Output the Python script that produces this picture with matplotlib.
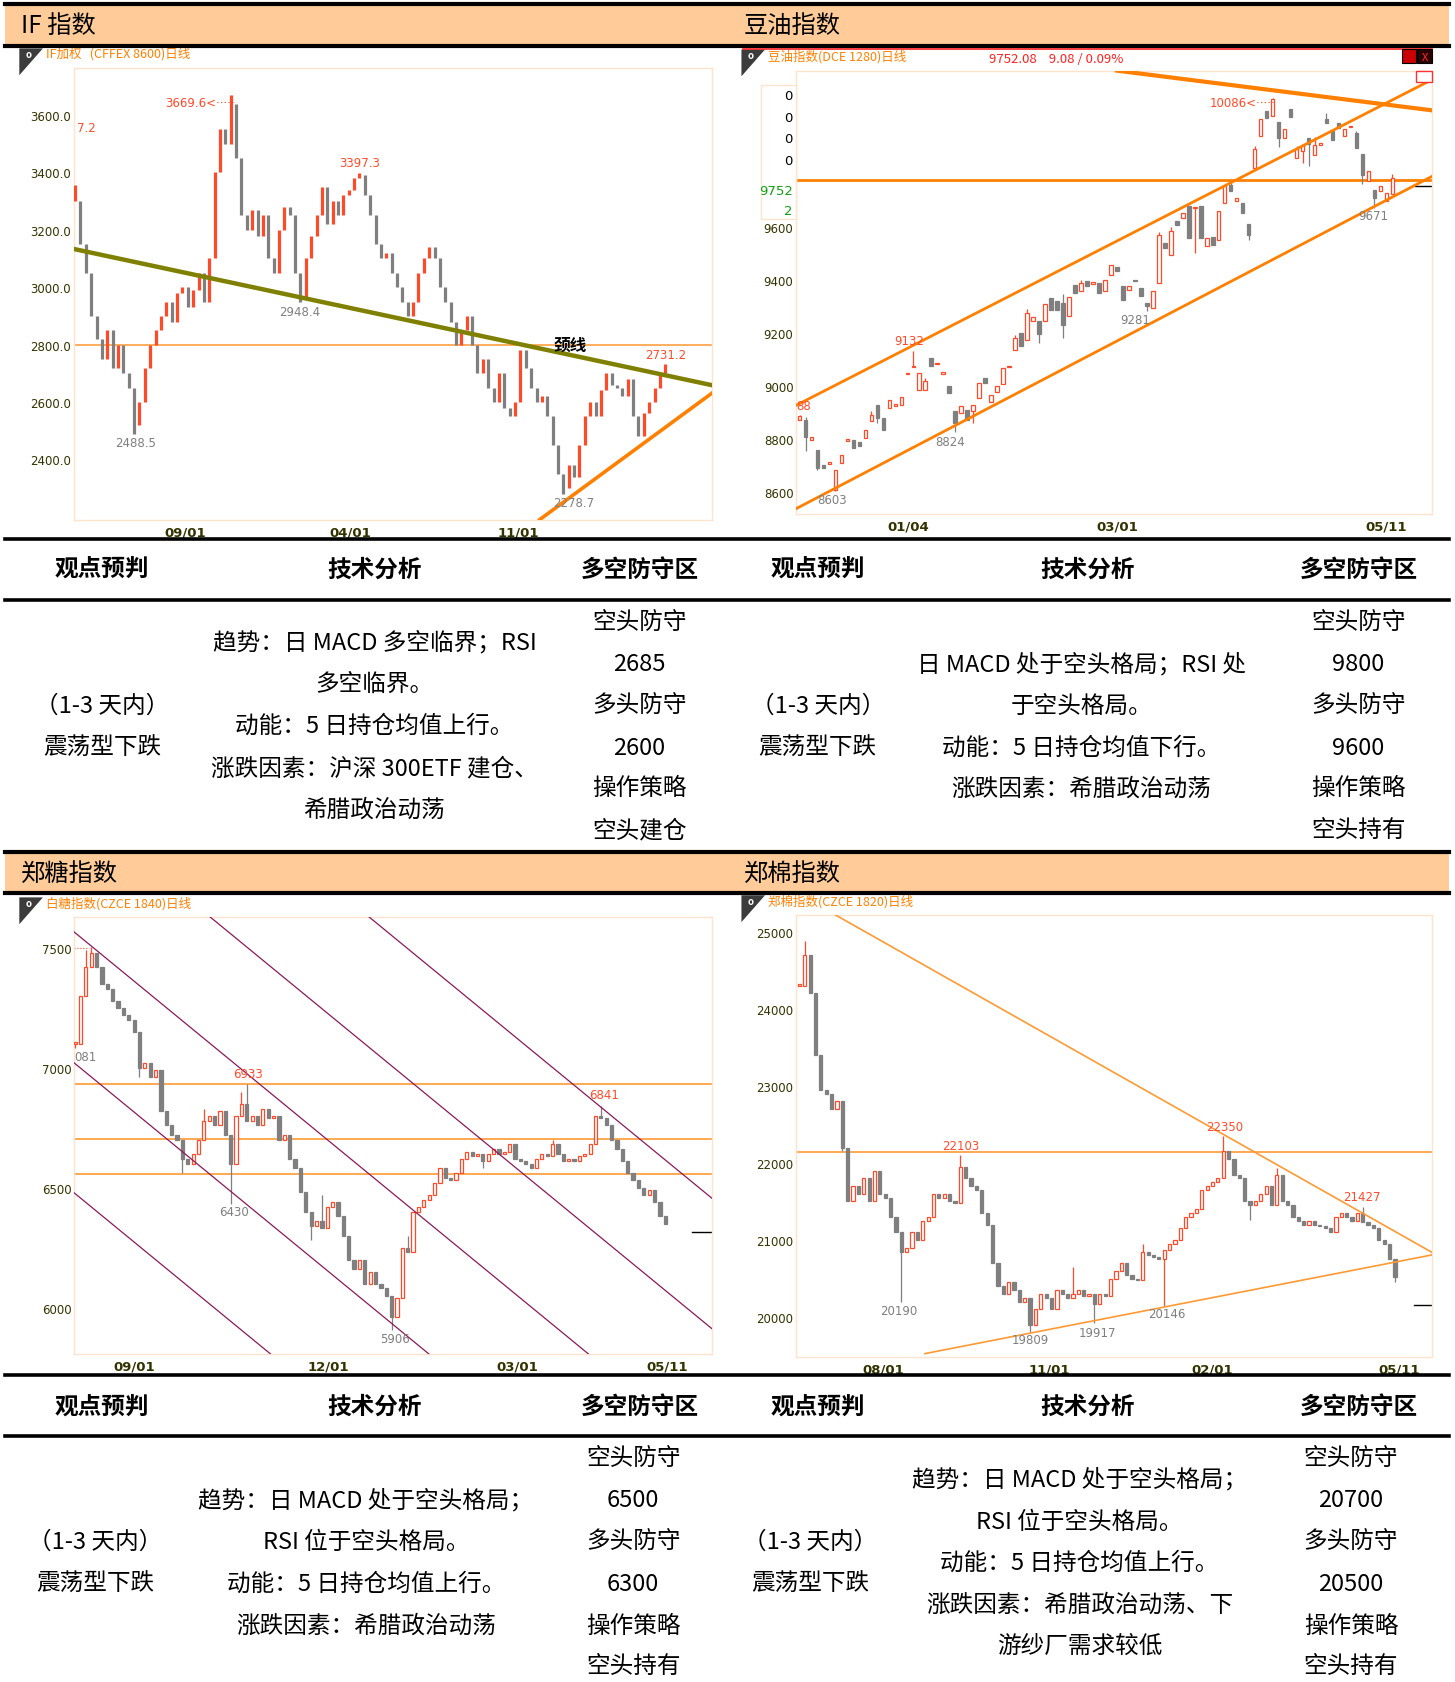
import matplotlib
matplotlib.use('Agg')
import matplotlib.pyplot as plt
from matplotlib.patches import Rectangle, Polygon
from matplotlib.lines import Line2D

plt.rcParams['font.family'] = ['Noto Sans CJK SC', 'DejaVu Sans']

# ---------------- data ----------------
# IF index, one close every few sessions
if_close = [3300, 3150, 3050, 2900, 2820, 2750, 2850, 2720, 2800, 2700,
            2650, 2520, 2600, 2720, 2800, 2850, 2900, 2950, 2880, 2980,
            3000, 2930, 2990, 3050, 2950, 3100, 3400, 3550, 3500, 3640,
            3450, 3250, 3200, 3270, 3180, 3250, 3100, 3050, 3200, 3280,
            3250, 3050, 2960, 3100, 3180, 3250, 3350, 3220, 3300, 3250,
            3320, 3340, 3380, 3390, 3320, 3250, 3150, 3100, 3120, 3050,
            3000, 2950, 2900, 2950, 3050, 3100, 3140, 3100, 3000, 2950,
            2880, 2800, 2850, 2900, 2800, 2700, 2750, 2650, 2600, 2700,
            2580, 2550, 2600, 2780, 2720, 2650, 2600, 2620, 2550, 2450,
            2350, 2300, 2380, 2340, 2450, 2550, 2600, 2550, 2640, 2700,
            2660, 2650, 2620, 2680, 2550, 2480, 2560, 2600, 2650, 2700, 2720]
if_hi = {0: 3357.2, 29: 3669.6, 53: 3397.3, 110: 2731.2}
if_lo = {11: 2488.5, 42: 2948.4, 91: 2278.7}
if_ticks = [20.6, 51.2, 82.6]
if_labels = ['09/01', '04/01', '11/01']

# soybean oil index, daily candles
oil_open = [8870, 8871, 8795, 8758, 8700, 8705, 8606, 8708, 8790, 8795,
            8787, 8802, 8865, 8928, 8877, 8915, 8922, 8928, 9043, 9070,
            8984, 8984, 9104, 9080, 9044, 8997, 8903, 8897, 8908, 8903,
            8953, 9028, 8940, 8978, 9006, 9070, 9136, 9198, 9173, 9246,
            9243, 9243, 9331, 9318, 9312, 9262, 9381, 9359, 9396, 9385,
            9388, 9359, 9419, 9447, 9375, 9362, 9400, 9369, 9312, 9293,
            9388, 9539, 9495, 9623, 9633, 9677, 9670, 9677, 9526, 9560,
            9551, 9690, 9759, 9697, 9690, 9611, 9822, 9942, 10036, 10018,
            9996, 9936, 10043, 9860, 9884, 9936, 9870, 9910, 10005, 9961,
            9990, 9942, 9975, 9955, 9873, 9772, 9740, 9735, 9696, 9722]
oil_close = [8885, 8808, 8805, 8688, 8690, 8713, 8682, 8740, 8797, 8764,
             8773, 8833, 8890, 8877, 8833, 8947, 8930, 8959, 9048, 9075,
             9047, 9016, 9073, 9087, 9050, 8972, 8858, 8922, 8871, 8928,
             9010, 9010, 8965, 9000, 9066, 9075, 9180, 9148, 9274, 9258,
             9195, 9308, 9287, 9287, 9230, 9333, 9350, 9388, 9375, 9390,
             9350, 9400, 9457, 9432, 9325, 9375, 9394, 9337, 9300, 9356,
             9570, 9520, 9583, 9608, 9652, 9558, 9676, 9558, 9558, 9532,
             9659, 9753, 9734, 9710, 9652, 9570, 9892, 10005, 10011, 10081,
             9936, 9967, 10014, 9892, 9910, 9911, 9910, 9916, 9992, 9929,
             9972, 9967, 9980, 9898, 9797, 9812, 9709, 9755, 9728, 9784]
oil_hi = {0: 8888, 1: 8880, 12: 8905, 19: 9132, 21: 9030, 36: 9190, 38: 9290,
          44: 9345, 47: 9400, 60: 9580, 62: 9600, 72: 9770, 76: 9905, 79: 10086,
          83: 9905, 86: 9940, 88: 10030, 93: 9960, 99: 9800}
oil_lo = {1: 8754, 3: 8680, 6: 8603, 13: 8860, 26: 8824, 29: 8860, 40: 9160,
          44: 9180, 58: 9281, 66: 9500, 75: 9550, 80: 9900, 84: 9840, 85: 9830,
          94: 9760, 96: 9671}
oil_ticks = [18.1, 53.0, 98.0]
oil_labels = ['01/04', '03/01', '05/11']

# sugar index
sugar_close = [7100, 7300, 7420, 7480, 7420, 7350, 7330, 7280, 7250, 7220,
               7200, 7150, 7000, 7020, 6960, 6990, 6820, 6760, 6720, 6700,
               6620, 6600, 6640, 6700, 6780, 6800, 6760, 6820, 6720, 6600,
               6800, 6850, 6780, 6800, 6760, 6830, 6790, 6800, 6700, 6720,
               6620, 6580, 6480, 6400, 6340, 6360, 6330, 6420, 6440, 6380,
               6300, 6200, 6160, 6200, 6100, 6150, 6100, 6080, 6050, 5960,
               6040, 6250, 6230, 6400, 6420, 6450, 6470, 6520, 6580, 6540,
               6530, 6560, 6620, 6650, 6630, 6640, 6610, 6640, 6660, 6640,
               6650, 6680, 6620, 6610, 6600, 6580, 6620, 6640, 6630, 6680,
               6640, 6610, 6620, 6610, 6630, 6640, 6680, 6800, 6790, 6760,
               6700, 6660, 6610, 6560, 6530, 6500, 6470, 6490, 6440, 6380, 6350]
sugar_hi = {2: 7490, 3: 7505, 7: 7330, 24: 6830, 31: 6900, 32: 6933, 46: 6470,
            62: 6300, 89: 6700, 98: 6841}
sugar_lo = {0: 7081, 12: 6960, 20: 6560, 29: 6430, 44: 6280, 59: 5906, 76: 6580}
sugar_ticks = [11.0, 47.2, 82.4, 110.4]
sugar_labels = ['09/01', '12/01', '03/01', '05/11']
# parallel downward channel lines: price at index 0, common slope
sugar_lines = [7563, 7017, 6475, 8091, 8635]
sugar_slope = -18.36
sugar_levels = [6931, 6703, 6556]

# cotton index
cotton_close = [24300, 24700, 24200, 23400, 22950, 22900, 22700, 22800, 22200, 21500,
                21700, 21600, 21800, 21500, 21900, 21600, 21550, 21300, 21100, 20850,
                20900, 21100, 21000, 21250, 21300, 21600, 21550, 21600, 21500, 21480,
                21950, 21800, 21700, 21650, 21350, 21200, 20700, 20400, 20300, 20450,
                20350, 20200, 20250, 19900, 20100, 20300, 20250, 20100, 20350, 20300,
                20250, 20300, 20350, 20280, 20300, 20170, 20300, 20280, 20500, 20600,
                20700, 20550, 20500, 20480, 20850, 20800, 20780, 20760, 20870, 20950,
                21000, 21150, 21300, 21350, 21400, 21650, 21700, 21750, 21800, 22150,
                22050, 21850, 21800, 21500, 21450, 21500, 21600, 21700, 21450, 21850,
                21500, 21450, 21300, 21250, 21200, 21250, 21200, 21180, 21150, 21100,
                21300, 21350, 21300, 21250, 21350, 21230, 21200, 21150, 21000, 20950,
                20750, 20520]
cotton_hi = {1: 24880, 9: 22100, 30: 22103, 51: 20650, 64: 20950, 79: 22350,
             89: 21930, 105: 21427}
cotton_lo = {8: 22150, 19: 20190, 43: 19809, 55: 19917, 68: 20146, 84: 21260, 111: 20450}
cotton_ticks = [15.6, 46.6, 77.0, 111.8]
cotton_labels = ['08/01', '11/01', '02/01', '05/11']

# tables
views = ['（1-3 天内）', '震荡型下跌']
if_tech = ['趋势：日 MACD 多空临界；RSI', '多空临界。', '动能：5 日持仓均值上行。',
           '涨跌因素：沪深 300ETF 建仓、', '希腊政治动荡']
if_zone = ['空头防守', '2685', '多头防守', '2600', '操作策略', '空头建仓']
oil_tech = ['日 MACD 处于空头格局；RSI 处', '于空头格局。', '动能：5 日持仓均值下行。',
            '涨跌因素：希腊政治动荡']
oil_zone = ['空头防守', '9800', '多头防守', '9600', '操作策略', '空头持有']
sugar_tech = ['趋势：日 MACD 处于空头格局；', 'RSI 位于空头格局。', '动能：5 日持仓均值上行。',
              '涨跌因素：希腊政治动荡']
sugar_zone = ['空头防守', '6500', '多头防守', '6300', '操作策略', '空头持有']
cotton_tech = ['趋势：日 MACD 处于空头格局；', 'RSI 位于空头格局。', '动能：5 日持仓均值上行。',
               '涨跌因素：希腊政治动荡、下', '游纱厂需求较低']
cotton_zone = ['空头防守', '20700', '多头防守', '20500', '操作策略', '空头持有']
col_heads = ['观点预判', '技术分析', '多空防守区']

# ---------------- styling ----------------
RED = '#FF4A2A'
GRAY = '#7F7F7F'
ORANGE = '#FF8000'
BAR = '#FFCC99'
TICKC = '#333300'
NARROW = ['Liberation Sans Narrow', 'DejaVu Sans']

W, H = 1356, 1568   # layout measured on the reference


def fx(x):
    return x / W


def fy(y):
    return 1 - y / H


def box(x0, y0, x1, y1):
    return [fx(x0), fy(y1), (x1 - x0) / W, (y1 - y0) / H]


fig = plt.figure(figsize=(14.55, 16.83), dpi=100)


def hline(y, x0=5, x1=1350, lw=2.6):
    fig.add_artist(Line2D([fx(x0), fx(x1)], [fy(y), fy(y)], lw=lw, color='black',
                          transform=fig.transFigure, zorder=6))


def ftext(x, y, s, **kw):
    fig.text(fx(x), fy(y), s, **kw)


# header bars and rules
for yt, yb in [(5, 44), (795, 833)]:
    fig.add_artist(Rectangle((fx(5), fy(yb)), fx(1350) - fx(5), fy(yt) - fy(yb),
                             facecolor=BAR, edgecolor='none', transform=fig.transFigure, zorder=0))
    hline(yt, lw=3)
    hline(yb, lw=3)
for y in [503, 560, 1282, 1339]:
    hline(y)

for x, y, s in [(20, 24, 'IF 指数'), (693, 24, '豆油指数'), (20, 814, '郑糖指数'), (693, 814, '郑棉指数')]:
    ftext(x, y, s, fontsize=17.5, va='center', ha='left')

# chart corner icons and titles
for (x, y) in [(18, 46), (691, 47), (18, 837), (691, 835)]:
    fig.add_artist(Polygon([(fx(x), fy(y)), (fx(x + 22), fy(y)), (fx(x), fy(y + 25))],
                           closed=True, facecolor='#3C3C3C', edgecolor='none',
                           transform=fig.transFigure, zorder=5))
    ftext(x + 9, y + 5, 'o', fontsize=7, color='white', ha='center', va='center',
          fontweight='bold', zorder=6)

TT = 9
ftext(43, 50, 'IF加权   (CFFEX 8600)日线', fontsize=TT, color=ORANGE, va='center')
ftext(716, 53, '豆油指数(DCE 1280)日线', fontsize=TT, color=ORANGE, va='center')
ftext(922, 55, '9752.08    9.08 / 0.09%', fontsize=9.5, color='#FF2020', va='center')
ftext(43, 842, '白糖指数(CZCE 1840)日线', fontsize=TT, color=ORANGE, va='center')
ftext(716, 840, '郑棉指数(CZCE 1820)日线', fontsize=TT, color=ORANGE, va='center')


def setup(ax, xlim, ylim, yticks, fmt, xticks, xlabels):
    ax.set_xlim(*xlim)
    ax.set_ylim(*ylim)
    ax.set_yticks(yticks)
    ax.set_yticklabels([fmt.format(v) for v in yticks], fontsize=8.5, color=TICKC,
                       family=NARROW)
    ax.set_xticks(xticks)
    ax.set_xticklabels(xlabels, fontsize=9.5, color=TICKC, fontweight='bold', family=NARROW)
    ax.tick_params(length=0, pad=2)
    ax.tick_params(axis='x', pad=4)
    for s in ax.spines.values():
        s.set_color('#FFE3CC')
        s.set_linewidth(1)


def candles(ax, opens, closes, hi, lo, width=0.6, tiny=1.0):
    for i, (o, c) in enumerate(zip(opens, closes)):
        up = c >= o
        col = RED if up else GRAY
        top = max(o, c, hi.get(i, o))
        bot = min(o, c, lo.get(i, o))
        ax.vlines(i, bot, top, color=col, lw=0.9, zorder=3)
        ax.bar(i, max(abs(c - o), tiny), bottom=min(o, c), width=width,
               facecolor='white' if up else GRAY, edgecolor=col, lw=0.9, zorder=4)


def note(ax, x, y, s, col, ha='center'):
    ax.text(x, y, s, color=col, fontsize=8.5, ha=ha, va='center', family=NARROW, zorder=6)


# ---------------- IF chart ----------------
ax = fig.add_axes(box(69, 64, 664, 485))
setup(ax, (-0.2, 118.8), (2190, 3765), [2400, 2600, 2800, 3000, 3200, 3400, 3600],
      '{:.1f}', if_ticks, if_labels)
if_open = [if_close[0]] + if_close[:-1]
for i, (o, c) in enumerate(zip(if_open, if_close)):
    col = RED if c >= o else GRAY
    ax.vlines(i, min(o, c, if_lo.get(i, o)), max(o, c, if_hi.get(i, o)), color=col, lw=2.3, zorder=3)
ax.axhline(2800, color='#FFA040', lw=1.2, zorder=2)
ax.plot([-0.2, 118.8], [3133, 2658], color='#808000', lw=3.2, zorder=4)
ax.plot([86.6, 118.8], [2190, 2632], color=ORANGE, lw=2.6, zorder=4)
note(ax, 23.3, 3645, '3669.6<·····', RED)
note(ax, 53, 3435, '3397.3', RED)
note(ax, 0.4, 3555, '7.2', RED, ha='left')
note(ax, 41.8, 2916, '2948.4', GRAY)
note(ax, 11.2, 2460, '2488.5', GRAY)
note(ax, 93, 2251, '2278.7', GRAY)
note(ax, 110, 2766, '2731.2', RED)
ax.text(92.2, 2800, '颈线', fontsize=12, fontweight='bold', ha='center', va='center', zorder=6)

# ---------------- soybean oil chart ----------------
ax = fig.add_axes(box(742, 67, 1335, 480))
setup(ax, (-0.56, 105.7), (8515, 10188), [8600, 8800, 9000, 9200, 9400, 9600],
      '{:d}', oil_ticks, oil_labels)
candles(ax, oil_open, oil_close, oil_hi, oil_lo, width=0.6, tiny=3)
ax.axhline(9775, color=ORANGE, lw=2, zorder=2)
ax.plot([-0.56, 105.7], [8926, 10156], color=ORANGE, lw=2, zorder=5)
ax.plot([-0.56, 105.7], [8536, 9791], color=ORANGE, lw=2, zorder=5)
ax.plot([53, 105.7], [10189, 10039], color=ORANGE, lw=3, zorder=5)
ax.plot([102.7, 105.7], [9754, 9754], color='black', lw=1)
note(ax, -0.5, 8926, '88', RED, ha='left')
note(ax, 18.3, 9170, '9132', RED)
note(ax, 5.4, 8569, '8603', GRAY)
note(ax, 25.1, 8788, '8824', GRAY)
note(ax, 56.1, 9251, '9281', GRAY)
note(ax, 74, 10067, '10086<·····', RED)
note(ax, 95.8, 9641, '9671', GRAY)

# overlay price box and window buttons
fig.add_artist(Rectangle((fx(709), fy(205)), fx(742) - fx(709), fy(80) - fy(205),
                         facecolor='white', edgecolor='#FFE3CC', lw=1,
                         transform=fig.transFigure, zorder=7))
for yy in [90, 110, 130, 150]:
    ftext(739, yy, '0', fontsize=9.5, ha='right', va='center', zorder=8, family=NARROW)
ftext(739, 178, '9752', fontsize=9.5, ha='right', va='center', color='#10A010', zorder=8, family=NARROW)
ftext(739, 197, '2', fontsize=9.5, ha='right', va='center', color='#10A010', zorder=8, family=NARROW)
fig.add_artist(Line2D([fx(692), fx(1335)], [fy(47), fy(47)], lw=1.2, color='#FF2020',
                      transform=fig.transFigure, zorder=6))
fig.add_artist(Rectangle((fx(1307), fy(60)), fx(1320) - fx(1307), fy(47) - fy(60),
                         facecolor='#CC0000', edgecolor='black', lw=0.8,
                         transform=fig.transFigure, zorder=7))
fig.add_artist(Rectangle((fx(1321), fy(60)), fx(1335) - fx(1321), fy(47) - fy(60),
                         facecolor='#2A0000', edgecolor='black', lw=0.8,
                         transform=fig.transFigure, zorder=7))
ftext(1328, 54, 'X', fontsize=8, color='#FF3030', ha='center', va='center', zorder=8)
fig.add_artist(Rectangle((fx(1320), fy(77)), fx(1335) - fx(1320), fy(67) - fy(77),
                         facecolor='white', edgecolor='#FF3030', lw=1,
                         transform=fig.transFigure, zorder=7))

# ---------------- sugar chart ----------------
ax = fig.add_axes(box(69, 855, 664, 1262))
setup(ax, (-0.2, 118.8), (5808, 7630), [6000, 6500, 7000, 7500],
      '{:d}', sugar_ticks, sugar_labels)
sugar_open = [sugar_close[0]] + sugar_close[:-1]
candles(ax, sugar_open, sugar_close, sugar_hi, sugar_lo, width=0.6, tiny=6)
for lv in sugar_levels:
    ax.axhline(lv, color='#FF9933', lw=1.2, zorder=2)
for b in sugar_lines:
    ax.plot([-0.2, 118.8], [b + sugar_slope * -0.2, b + sugar_slope * 118.8],
            color='#8B1A5A', lw=0.9, zorder=5)
ax.plot([115, 118.8], [6314, 6314], color='black', lw=1)
ax.plot([-0.2, 2.5], [7500, 7500], color=RED, lw=0.8, ls=':')
note(ax, -0.1, 7048, '081', GRAY, ha='left')
note(ax, 32.2, 6976, '6933', RED)
note(ax, 29.6, 6399, '6430', GRAY)
note(ax, 59.6, 5871, '5906', GRAY)
note(ax, 98.6, 6887, '6841', RED)

# ---------------- cotton chart ----------------
ax = fig.add_axes(box(742, 853, 1335, 1265))
setup(ax, (-0.6, 118), (19485, 25223), [20000, 21000, 22000, 23000, 24000, 25000],
      '{:d}', cotton_ticks, cotton_labels)
cotton_open = [cotton_close[0]] + cotton_close[:-1]
candles(ax, cotton_open, cotton_close, cotton_hi, cotton_lo, width=0.6, tiny=20)
ax.axhline(22145, color='#FF9933', lw=1.2, zorder=2)
ax.plot([6.6, 118], [25223, 20836], color='#FF9933', lw=1.2, zorder=5)
ax.plot([23.4, 118], [19526, 20808], color='#FF9933', lw=1.2, zorder=5)
ax.plot([114.6, 118], [20152, 20152], color='black', lw=1)
note(ax, 30, 22228, '22103', RED)
note(ax, 79.2, 22479, '22350', RED)
note(ax, 104.8, 21559, '21427', RED)
note(ax, 18.6, 20083, '20190', GRAY)
note(ax, 43, 19707, '19809', GRAY)
note(ax, 55.6, 19804, '19917', GRAY)
note(ax, 68.4, 20041, '20146', GRAY)

# ---------------- tables ----------------
BODY = 17
for cols, hy in [([95, 349, 596], 531), ([762, 1014, 1266], 531),
                 ([95, 349, 596], 1311), ([762, 1014, 1266], 1311)]:
    for cx, s in zip(cols, col_heads):
        ftext(cx, hy, s, fontsize=BODY, fontweight='bold', ha='center', va='center')


def column(x, ys, lines):
    for y, s in zip(ys, lines):
        ftext(x, y, s, fontsize=BODY, ha='center', va='center')


top_rows = [580, 619, 658, 697, 735, 774]
bot_rows = [1359, 1398, 1437, 1476, 1515, 1553]
column(95, [658, 697], views)
column(349, [599, 638, 677, 716, 755], if_tech)
column(596, top_rows, if_zone)
column(762, [658, 697], views)
column(1008, [619, 658, 697, 735], oil_tech)
column(1266, top_rows, oil_zone)
column(89, [1437, 1476], views)
column(341, [1398, 1437, 1476, 1515], sugar_tech)
column(590, bot_rows, sugar_zone)
column(755, [1437, 1476], views)
column(1006, [1379, 1418, 1456, 1495, 1534], cotton_tech)
column(1259, bot_rows, cotton_zone)

fig.savefig('out.png', dpi=100, facecolor='white')
